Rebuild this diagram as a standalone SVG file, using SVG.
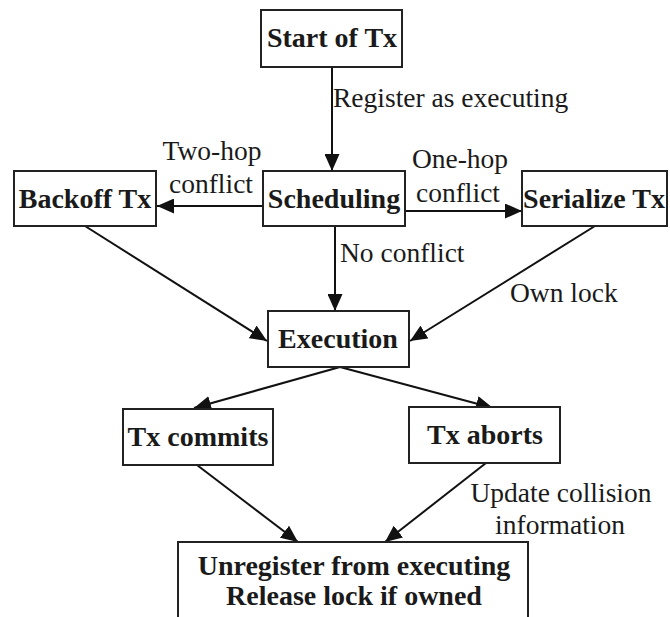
<svg xmlns="http://www.w3.org/2000/svg" width="670" height="617" viewBox="0 0 670 617">
<style>
.box{fill:#fff;stroke:#222;stroke-width:2}
.bt{font-family:"Liberation Serif","Times New Roman",serif;font-weight:bold;font-size:28px;fill:#1a1a1a;text-anchor:middle}
.lt{font-family:"Liberation Serif","Times New Roman",serif;font-size:27.5px;fill:#1a1a1a}
.c{text-anchor:middle}
.edge{stroke:#111;stroke-width:2;fill:none;marker-end:url(#ah)}
</style>
<defs>
<marker id="ah" markerUnits="userSpaceOnUse" markerWidth="17" markerHeight="15" refX="17" refY="7.5" orient="auto">
<path d="M0,0 L17,7.5 L0,15 z" fill="#111"/>
</marker>
</defs>
<rect width="670" height="617" fill="#fff"/>
<g id="connectors">
<line class="edge" x1="332" y1="67" x2="332" y2="171"/>
<line class="edge" x1="263" y1="206" x2="157" y2="206"/>
<line class="edge" x1="405" y1="211" x2="522" y2="211"/>
<line class="edge" x1="335" y1="226" x2="335" y2="311"/>
<line class="edge" x1="85" y1="226" x2="267" y2="341"/>
<line class="edge" x1="595" y1="226" x2="410" y2="341"/>
<line class="edge" x1="340" y1="367" x2="194" y2="408"/>
<line class="edge" x1="340" y1="367" x2="493" y2="408"/>
<line class="edge" x1="197" y1="465" x2="298" y2="542"/>
<line class="edge" x1="486" y1="463" x2="385" y2="542"/>
<text class="lt" x="333" y="107">Register as executing</text>
<text class="lt c" x="212" y="160">Two-hop</text>
<text class="lt c" x="211" y="193">conflict</text>
<text class="lt c" x="460" y="168">One-hop</text>
<text class="lt c" x="458" y="202">conflict</text>
<text class="lt" x="340" y="262">No conflict</text>
<text class="lt" x="510" y="302">Own lock</text>
<text class="lt c" x="561" y="502">Update collision</text>
<text class="lt c" x="560" y="534">information</text>
</g>
<g id="start">
<rect class="box" x="261" y="10" width="141" height="57"/>
<text class="bt" x="332" y="47">Start of Tx</text>
</g>
<g id="scheduling">
<rect class="box" x="263" y="171" width="142" height="55"/>
<text class="bt" x="334" y="208">Scheduling</text>
</g>
<g id="backoff">
<rect class="box" x="14" y="171" width="142" height="55"/>
<text class="bt" x="85" y="208">Backoff Tx</text>
</g>
<g id="serialize">
<rect class="box" x="522" y="171" width="145" height="55"/>
<text class="bt" x="594" y="208">Serialize Tx</text>
</g>
<g id="execution">
<rect class="box" x="268" y="311" width="141" height="56"/>
<text class="bt" x="338" y="348">Execution</text>
</g>
<g id="commits">
<rect class="box" x="123" y="409" width="150" height="56"/>
<text class="bt" x="198" y="446">Tx commits</text>
</g>
<g id="aborts">
<rect class="box" x="409" y="407" width="151" height="56"/>
<text class="bt" x="485" y="444">Tx aborts</text>
</g>
<g id="unregister">
<rect class="box" x="178" y="542" width="350" height="90"/>
<text class="bt" x="354" y="575">Unregister from executing</text>
<text class="bt" x="354" y="605">Release lock if owned</text>
</g>
</svg>
